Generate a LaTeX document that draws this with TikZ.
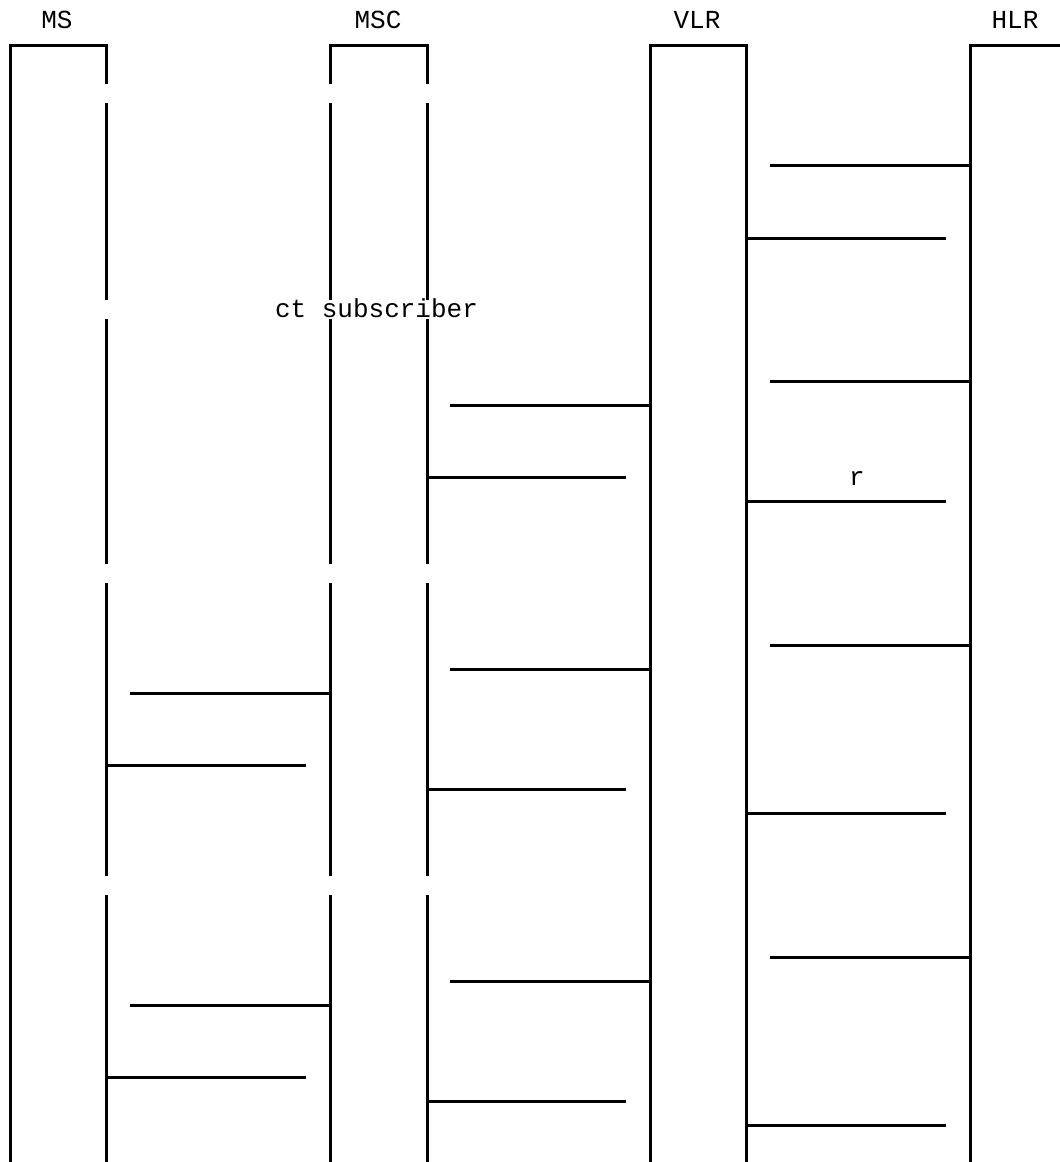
\documentclass[tikz,border=0pt]{standalone}
\usepackage{fontspec}
\setmainfont{Liberation Mono}
\begin{document}
\begin{tikzpicture}[x=1pt,y=-1pt,
  life/.style={line width=3pt,line cap=butt},
  msg/.style={line width=3pt},
  hdr/.style={font=\fontsize{26}{28}\selectfont,inner sep=0pt,anchor=base},
  lbl/.style={font=\fontsize{26}{28}\selectfont,inner sep=0pt,anchor=base}]
\useasboundingbox (0,0) rectangle (1060,1162);
% headers
\node[hdr] (ms)  at (57,28) {MS};
\node[hdr] (msc) at (378,28) {MSC};
\node[hdr] (vlr) at (697,28) {VLR};
\node[hdr] (hlr) at (1015,28) {HLR};
% lifeline boxes
\draw[life] (10,1162) -- (10,45) -- (106.5,45) -- (106.5,84);
\draw[life] (330.5,84) -- (330.5,45) -- (427,45) -- (427,84);
\draw[life] (650,1162) -- (650,45) -- (746,45) -- (746,1162);
\draw[life] (970,1162) -- (970,45) -- (1062,45);
% broken right line of MS and both lines of MSC
\foreach \x in {106.5,330.5,427}{
  \draw[life] (\x,103) -- (\x,300);
  \draw[life] (\x,319) -- (\x,564);
  \draw[life] (\x,583) -- (\x,876);
  \draw[life] (\x,895) -- (\x,1162);
}
% labels
\node[lbl] (t1) at (376.5,317) {ct subscriber};
\node[lbl] (t2) at (857,485) {r};
% messages
\foreach \n/\xa/\xb/\y in {
  a1/770/970/165, a2/746/946/238,
  a3/770/970/381, a4/450/650/405, a5/427/626/477, a6/746/946/501,
  b1/770/970/645, b2/450/650/669, b3/130/330/693, b4/107/306/765, b5/427/626/789, b6/746/946/813,
  c1/770/970/957, c2/450/650/981, c3/130/330/1005, c4/107/306/1077, c5/427/626/1101, c6/746/946/1125}{
  \coordinate (\n s) at (\xa,\y);
  \coordinate (\n e) at (\xb,\y);
  \draw[msg] (\n s) -- (\n e);
}
\end{tikzpicture}
\end{document}
